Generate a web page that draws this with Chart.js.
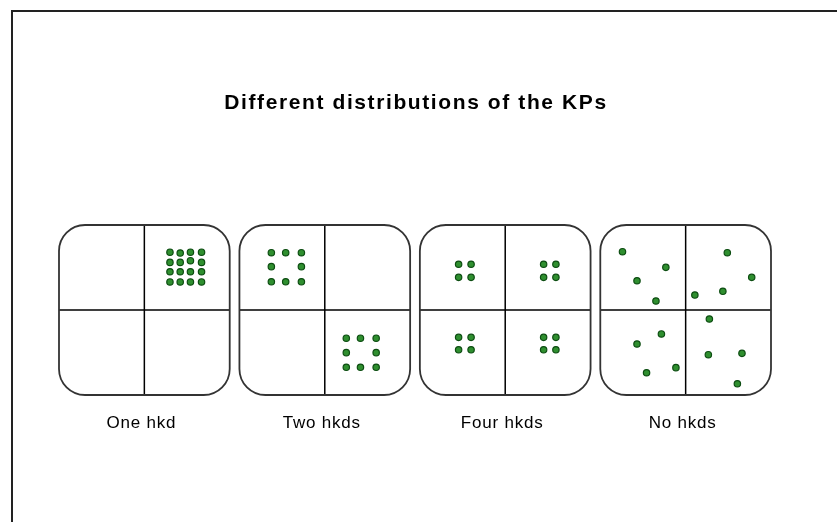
<!DOCTYPE html>
<html>
<head>
<meta charset="utf-8">
<script src="https://cdn.jsdelivr.net/npm/chart.js@4/dist/chart.umd.min.js"></script>
<style>
html,body{margin:0;padding:0;background:#fff;}
#c{display:block;}
</style>
</head>
<body>
<canvas id="c" width="837" height="522"></canvas>
<script>
// ---- data (panel-local units: 0..100 across, 0..100 bottom->top) ----
const title = 'Different distributions of the KPs';
const categories = ['One hkd', 'Two hkds', 'Four hkds', 'No hkds'];

const oneHkdX = [65, 71, 77, 83.5, 65, 71, 77, 83.5, 65, 71, 77, 83.5, 65, 71, 77, 83.5];
const oneHkdY = [84, 83.5, 84, 84, 78, 78, 79, 78, 72.5, 72.5, 72.5, 72.5, 66.5, 66.5, 66.5, 66.5];

const twoHkdsX = [18.7, 27.1, 36.3, 18.7, 36.3, 18.7, 27.1, 36.3, 62.6, 70.9, 80.1, 62.6, 80.1, 62.6, 70.9, 80.1];
const twoHkdsY = [83.7, 83.7, 83.7, 75.5, 75.5, 66.6, 66.6, 66.6, 33.4, 33.4, 33.4, 24.9, 24.9, 16.3, 16.3, 16.3];

const fourHkdsX = [22.7, 30.0, 22.7, 30.0, 72.5, 79.7, 72.5, 79.7, 22.7, 30.0, 22.7, 30.0, 72.5, 79.7, 72.5, 79.7];
const fourHkdsY = [76.9, 76.9, 69.2, 69.2, 76.9, 76.9, 69.2, 69.2, 33.9, 33.9, 26.6, 26.6, 33.9, 33.9, 26.6, 26.6];

const noHkdsX = [13.0, 38.4, 21.5, 32.6, 74.4, 88.7, 55.4, 71.8, 35.8, 21.5, 44.3, 27.1, 63.9, 63.3, 83.0, 80.3];
const noHkdsY = [84.3, 75.1, 67.2, 55.3, 83.7, 69.2, 58.8, 61.0, 35.9, 30.0, 16.1, 13.1, 44.7, 23.7, 24.5, 6.6];

const panelXs = [oneHkdX, twoHkdsX, fourHkdsX, noHkdsX];
const panelYs = [oneHkdY, twoHkdsY, fourHkdsY, noHkdsY];

// ---- layout ----
const PANEL = 100, GAP = 5.7;
const offsetOf = i => i * (PANEL + GAP);

const datasets = panelXs.map((xs, i) => ({
  label: categories[i],
  data: xs.map((x, k) => ({ x: x + offsetOf(i), y: panelYs[i][k] })),
  pointRadius: 3.2,
  pointHoverRadius: 3.2,
  pointBackgroundColor: '#2f8f2f',
  pointBorderColor: '#0d4d12',
  pointBorderWidth: 1.2,
  showLine: false
}));

const panelsPlugin = {
  id: 'panels',
  beforeDraw(chart) {
    const ctx = chart.ctx;
    const W = chart.width, H = chart.height;
    ctx.save();
    ctx.fillStyle = '#fff';
    ctx.fillRect(0, 0, W, H);
    // outer frame (left & top)
    ctx.strokeStyle = '#222';
    ctx.lineWidth = 2;
    ctx.beginPath();
    ctx.moveTo(12, H);
    ctx.lineTo(12, 11);
    ctx.lineTo(W, 11);
    ctx.stroke();
    // title
    ctx.fillStyle = '#000';
    ctx.font = 'bold 21px "Liberation Sans", Arial, sans-serif';
    ctx.letterSpacing = '1.6px';
    ctx.textAlign = 'center';
    ctx.textBaseline = 'middle';
    ctx.fillText(title, 416, 103);
    ctx.restore();

    const xs = chart.scales.x, ys = chart.scales.y;
    categories.forEach((cat, i) => {
      const x0 = xs.getPixelForValue(offsetOf(i));
      const x1 = xs.getPixelForValue(offsetOf(i) + PANEL);
      const xm = xs.getPixelForValue(offsetOf(i) + PANEL / 2);
      const yt = ys.getPixelForValue(PANEL);
      const yb = ys.getPixelForValue(0);
      const ym = ys.getPixelForValue(PANEL / 2);
      ctx.save();
      // dividers
      ctx.strokeStyle = '#000';
      ctx.lineWidth = 1.5;
      ctx.beginPath();
      ctx.moveTo(xm, yt); ctx.lineTo(xm, yb);
      ctx.moveTo(x0, ym); ctx.lineTo(x1, ym);
      ctx.stroke();
      // rounded box
      ctx.strokeStyle = '#333';
      ctx.lineWidth = 1.8;
      ctx.beginPath();
      ctx.roundRect(x0, yt, x1 - x0, yb - yt, 26);
      ctx.stroke();
      // label
      ctx.fillStyle = '#000';
      ctx.font = '17px "Liberation Sans", Arial, sans-serif';
      ctx.letterSpacing = '0.8px';
      ctx.textAlign = 'center';
      ctx.textBaseline = 'middle';
      ctx.fillText(cat, xm - 3, yb + 28);
      ctx.restore();
    });
  }
};

new Chart(document.getElementById('c'), {
  type: 'scatter',
  data: { datasets },
  options: {
    responsive: false,
    animation: false,
    events: [],
    layout: { padding: { left: 59, right: 66, top: 225, bottom: 127 } },
    scales: {
      x: { type: 'linear', min: 0, max: offsetOf(3) + PANEL, display: false },
      y: { type: 'linear', min: 0, max: PANEL, display: false }
    },
    plugins: { legend: { display: false }, title: { display: false }, tooltip: { enabled: false } }
  },
  plugins: [panelsPlugin]
});
</script>
</body>
</html>
